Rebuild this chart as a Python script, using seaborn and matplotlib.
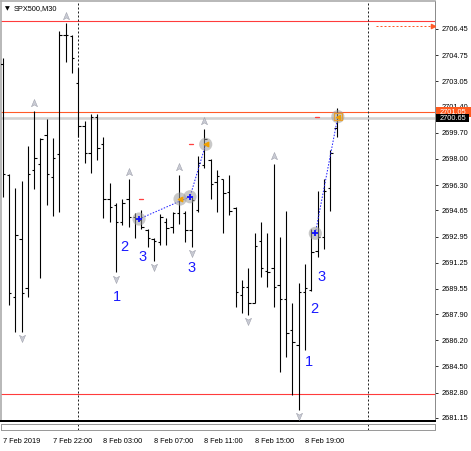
import numpy as np
import pandas as pd
import matplotlib
matplotlib.use("Agg")
import matplotlib.pyplot as plt
import matplotlib.transforms as mtrans
from matplotlib.patches import Rectangle
from matplotlib.path import Path
import seaborn as sns

# ---------------- data ----------------
symbol = "SPX500,M30"
opens = [2704.20, 2696.95, 2689.04, 2692.77, 2689.58, 2697.28, 2697.65, 2699.56, 2696.85, 2698.32,
         2706.06, 2706.00, 2702.96, 2700.14, 2698.41, 2700.70, 2698.95, 2695.39, 2695.00, 2693.92,
         2695.39, 2694.24, 2694.03, 2693.38, 2692.77, 2692.62, 2693.92, 2693.59, 2694.46, 2694.46,
         2693.38, 2694.68, 2697.60, 2697.90, 2696.50, 2696.70, 2695.87, 2694.79, 2689.15, 2689.69,
         2688.65, 2692.66, 2690.70, 2690.88, 2689.80, 2688.90, 2686.87, 2685.90, 2689.37, 2689.47,
         2692.00, 2692.94, 2696.10, 2699.99]
highs = [2704.54, 2697.02, 2696.09, 2696.59, 2698.84, 2701.14, 2699.34, 2700.58, 2699.34, 2706.34,
         2706.82, 2706.06, 2703.93, 2700.47, 2700.92, 2700.92, 2699.40, 2696.41, 2695.16, 2695.39,
         2696.67, 2694.46, 2694.68, 2693.42, 2692.83, 2694.40, 2694.13, 2694.57, 2696.95, 2694.64,
         2695.54, 2698.19, 2699.95, 2697.97, 2697.28, 2696.67, 2696.95, 2694.89, 2690.12, 2690.88,
         2693.16, 2693.92, 2693.16, 2697.67, 2692.90, 2694.64, 2688.65, 2689.91, 2691.17, 2693.42,
         2695.94, 2696.67, 2698.58, 2701.29]
lows = [2695.54, 2688.50, 2686.76, 2686.76, 2689.04, 2696.04, 2690.23, 2695.00, 2694.29, 2694.53,
        2704.28, 2703.57, 2699.40, 2697.76, 2697.11, 2697.93, 2694.13, 2693.92, 2690.62, 2693.70,
        2693.59, 2692.83, 2693.42, 2692.29, 2691.38, 2692.40, 2692.40, 2693.16, 2693.77, 2692.62,
        2692.29, 2694.57, 2697.39, 2695.37, 2694.57, 2693.16, 2694.35, 2688.39, 2687.95, 2687.85,
        2688.61, 2690.34, 2689.69, 2688.35, 2684.12, 2685.14, 2682.65, 2681.67, 2685.57, 2689.43,
        2691.64, 2692.12, 2694.64, 2699.40]
closes = [2697.02, 2689.30, 2693.05, 2689.30, 2697.02, 2698.08, 2699.27, 2697.02, 2698.08, 2706.06,
          2706.06, 2704.59, 2700.14, 2698.41, 2700.70, 2698.73, 2695.39, 2694.89, 2693.92, 2695.16,
          2694.24, 2694.09, 2693.59, 2692.83, 2692.66, 2694.24, 2693.48, 2694.46, 2695.33, 2693.38,
          2695.30, 2697.71, 2699.30, 2696.40, 2696.90, 2695.80, 2694.60, 2689.37, 2689.69, 2688.61,
          2692.36, 2690.88, 2690.62, 2689.69, 2688.90, 2686.65, 2686.11, 2689.37, 2689.60, 2691.97,
          2692.94, 2695.90, 2698.40, 2700.65]

time_tick_bars = [0, 8, 16, 24, 32, 40, 48]
time_tick_labels = ["7 Feb 2019", "7 Feb 22:00", "8 Feb 03:00", "8 Feb 07:00",
                    "8 Feb 11:00", "8 Feb 15:00", "8 Feb 19:00"]
price_ticks = [2706.45, 2704.75, 2703.05, 2701.40, 2699.70, 2698.00, 2696.30, 2694.65,
               2692.95, 2691.25, 2689.55, 2687.90, 2686.20, 2684.50, 2682.80, 2681.15]

day_separators = [12, 58]
up_fractal_bars = [5, 10, 20, 28, 32, 43]
down_fractal_bars = [3, 18, 24, 30, 39, 47]

wave_labels = ["1", "2", "3", "3", "1", "2", "3"]
wave_x = [18.1, 19.26, 22.16, 29.94, 48.58, 49.42, 50.58]
wave_y = [2689.04, 2692.29, 2691.60, 2690.89, 2684.81, 2688.22, 2690.30]

circle_x = [21.64, 28.15, 29.73, 32.23, 49.62, 53.2]
circle_y = [2694.09, 2695.39, 2695.54, 2698.95, 2693.16, 2700.75]
circle_kind = ["cross", "target", "cross", "target", "cross", "last"]

zig1_x = [21.64, 29.73, 32.23]
zig1_y = [2694.09, 2695.54, 2698.95]
zig2_x = [49.62, 53.2]
zig2_y = [2693.16, 2700.75]

dash_x = [22.0, 29.94, 49.94]
dash_y = [2695.39, 2698.95, 2700.75]

red_levels = [2706.95, 2682.70]
ask_level = 2701.05
bid_level = 2700.65
target_level = 2706.65
target_from, target_to = 59.3, 68.3

# ---------------- figure ----------------
sns.set_style("white")
plt.rcParams["font.family"] = ["Liberation Sans", "DejaVu Sans"]

W, H = 471, 451
fig = plt.figure(figsize=(W / 100, H / 100), dpi=100)
ax = fig.add_axes([1 / W, (H - 421) / H, 434 / W, 420 / H])

df = pd.DataFrame({"o": opens, "h": highs, "l": lows, "c": closes})
df["x"] = np.arange(len(df))
PX = 0.72  # 1 pixel in points

xlim = (-0.265, 68.62)
ylim = (2680.954, 2708.271)
ax.set_xlim(*xlim)
ax.set_ylim(*ylim)

# horizontal levels
for lv in red_levels:
    ax.axhline(lv, color="#ff3b3b", lw=1.1 * PX, zorder=1)
ax.axhline(bid_level, color="#d2d2d2", lw=2.6 * PX, zorder=1)
ax.axhline(ask_level, color="#ff5a28", lw=1.1 * PX, zorder=1)

# day separators
for s in day_separators:
    ax.axvline(s, color="#222222", lw=1.0 * PX, ls=(0, (2, 2)), zorder=1)

# OHLC bars
ax.vlines(df["x"], df["l"], df["h"], color="black", lw=1.1 * PX, zorder=3)
ax.hlines(df["o"], df["x"] - 0.38, df["x"], color="black", lw=1.1 * PX, zorder=3)
ax.hlines(df["c"], df["x"], df["x"] + 0.38, color="black", lw=1.1 * PX, zorder=3)

# fractal arrows
up_path = Path([(0, 1), (0.75, -0.8), (0, -0.35), (-0.75, -0.8), (0, 1)],
               [Path.MOVETO, Path.LINETO, Path.LINETO, Path.LINETO, Path.CLOSEPOLY])
dn_path = Path([(0, -1), (0.75, 0.8), (0, 0.35), (-0.75, 0.8), (0, -1)],
               [Path.MOVETO, Path.LINETO, Path.LINETO, Path.LINETO, Path.CLOSEPOLY])
up_df = pd.DataFrame({"x": up_fractal_bars, "y": [highs[i] + 0.5 for i in up_fractal_bars]})
dn_df = pd.DataFrame({"x": down_fractal_bars, "y": [lows[i] - 0.42 for i in down_fractal_bars]})
sns.scatterplot(data=up_df, x="x", y="y", marker=up_path, s=34, color="#c9cbd4",
                edgecolor="#9a9ca8", linewidth=0.35, ax=ax, zorder=4, legend=False)
sns.scatterplot(data=dn_df, x="x", y="y", marker=dn_path, s=34, color="#c9cbd4",
                edgecolor="#9a9ca8", linewidth=0.35, ax=ax, zorder=4, legend=False)

# zigzag dotted lines
sns.lineplot(x=zig1_x, y=zig1_y, ax=ax, color="#2020ff", lw=1.0 * PX,
             linestyle=(0, (1.5, 1.5)), zorder=5, sort=False, estimator=None)
sns.lineplot(x=zig2_x, y=zig2_y, ax=ax, color="#2020ff", lw=1.0 * PX,
             linestyle=(0, (1.5, 1.5)), zorder=5, sort=False, estimator=None)

# grey circles and inner marks
circ_df = pd.DataFrame({"x": circle_x, "y": circle_y, "k": circle_kind})
sns.scatterplot(data=circ_df, x="x", y="y", s=90, color="#9c9c9c", alpha=0.55,
                edgecolor="none", ax=ax, zorder=6, legend=False)
cr = circ_df[circ_df.k == "cross"]
ax.scatter(cr.x, cr.y, marker="+", s=22, color="#1010ff", linewidths=1.3, zorder=7)
tg = circ_df[circ_df.k == "target"]
ax.scatter(tg.x, tg.y, marker="<", s=10, color="#f0a000", zorder=7)
ls_ = circ_df[circ_df.k == "last"]
ax.scatter(ls_.x, ls_.y, marker="s", s=28, facecolor="none", edgecolor="#e8a030",
           linewidths=0.9, zorder=7)
ax.scatter(ls_.x, ls_.y, marker="<", s=8, color="#f0a000", zorder=7)

# red level dashes
for x0, y0 in zip(dash_x, dash_y):
    ax.plot([x0 - 0.33, x0 + 0.33], [y0, y0], color="#ff4040", lw=1.3 * PX, zorder=6)

# wave labels
for t, x0, y0 in zip(wave_labels, wave_x, wave_y):
    ax.text(x0, y0, t, color="#1a1aff", fontsize=10.5, ha="center", va="center", zorder=8)

# target arrow (orange dotted)
ax.plot([target_from, target_to - 0.3], [target_level, target_level], color="#ff5a28",
        lw=1.0 * PX, ls=(0, (2, 2)), zorder=5)
ax.scatter([target_to], [target_level], marker=">", s=9, color="#ff5a28", zorder=5)

# axes styling
for side in ["left", "top"]:
    ax.spines[side].set_color("#a8a8a8")
    ax.spines[side].set_linewidth(1.6 * PX)
ax.spines["right"].set_color("#8c8c8c")
ax.spines["right"].set_linewidth(1.0 * PX)
ax.spines["bottom"].set_color("black")
ax.spines["bottom"].set_linewidth(2.0 * PX)

ax.yaxis.tick_right()
ax.set_yticks(price_ticks)
ax.set_yticklabels([f"{p:.2f}" for p in price_ticks])
ax.tick_params(axis="y", direction="out", length=3 * PX, width=1 * PX, color="#333333",
               pad=2.5, labelsize=5.3, labelcolor="black", right=True, left=False)
ax.set_xticks([])
ax.tick_params(axis="x", bottom=False, labelbottom=False)
ax.set_xlabel("")
ax.set_ylabel("")

# price boxes
bt = mtrans.blended_transform_factory(fig.transFigure, ax.transData)
ppx = 1 / 15.375
ax.add_patch(Rectangle((436 / W, ask_level - 4.6 * ppx), 35 / W, 9.2 * ppx, transform=bt,
                       facecolor="#ff5a1e", edgecolor="none", clip_on=False, zorder=10))
ax.text(440 / W, ask_level, f"{ask_level:.2f}", transform=bt, color="white", fontsize=5.3,
        ha="left", va="center", zorder=11, clip_on=False)
ax.add_patch(Rectangle((436 / W, bid_level - 4.0 * ppx), 33 / W, 8.5 * ppx, transform=bt,
                       facecolor="black", edgecolor="none", clip_on=False, zorder=12))
ax.text(440 / W, bid_level, f"{bid_level:.2f}", transform=bt, color="white", fontsize=5.3,
        ha="left", va="center", zorder=13, clip_on=False)

# symbol label
fig.text(4.5 / W, 1 - 8.5 / H, "\u25bc", fontsize=4.5, family="DejaVu Sans",
         ha="left", va="center", color="black")
fig.text(14 / W, 1 - 8.5 / H, symbol, fontsize=5.3, ha="left", va="center", color="black")

# sub window + time scale (separate axes, same x range)
ax_sub = fig.add_axes([1 / W, (H - 430) / H, 434 / W, 6.5 / H])
ax_sub.set_xlim(*xlim)
ax_sub.set_ylim(0, 1)
for side in ["left", "top", "bottom", "right"]:
    ax_sub.spines[side].set_color("#9a9a9a")
    ax_sub.spines[side].set_linewidth(1.0 * PX)
for s in day_separators:
    ax_sub.axvline(s, color="#222222", lw=1.0 * PX, ls=(0, (2, 2)))
ax_sub.set_yticks([])
ax_sub.set_xticks(time_tick_bars)
ax_sub.set_xticklabels(time_tick_labels)
for lab in ax_sub.get_xticklabels():
    lab.set_horizontalalignment("left")
ax_sub.tick_params(axis="x", direction="out", length=6 * PX, width=1 * PX, color="#333333",
                   pad=1.5, labelsize=5.3, labelcolor="black")

fig.savefig("out.png", dpi=100)
